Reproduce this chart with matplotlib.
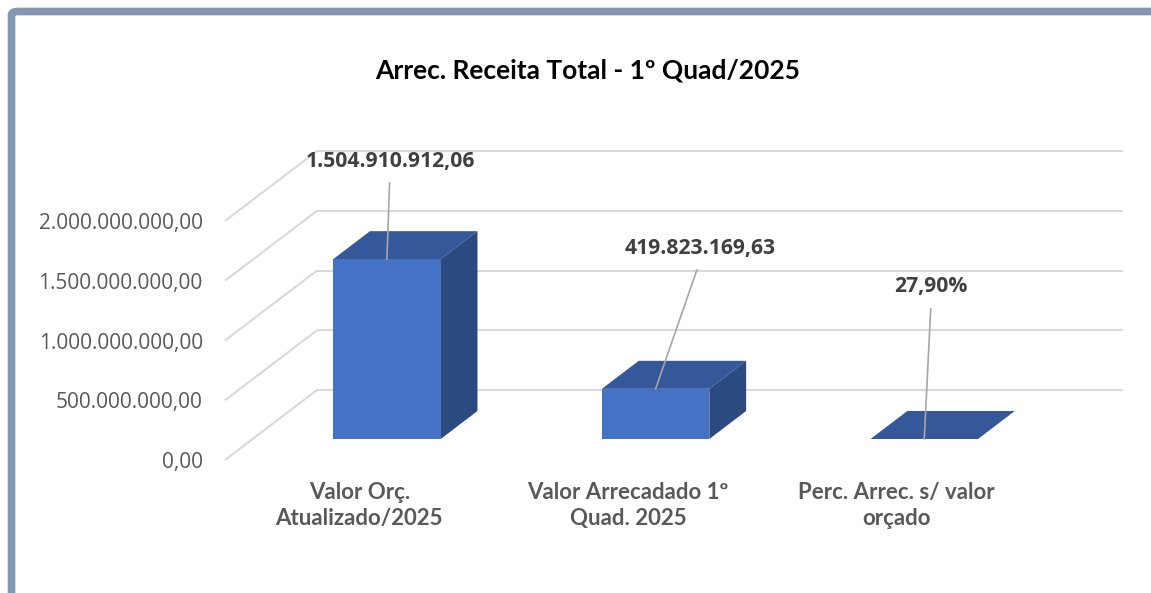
"""Arrec. Receita Total - 1º Quad/2025 (3D-style column chart)."""

import matplotlib

matplotlib.use("Agg")

import matplotlib.pyplot as plt
from matplotlib.patches import FancyBboxPatch, Polygon, Rectangle

categories = [
    "Valor Orç.\nAtualizado/2025",
    "Valor Arrecadado 1º\nQuad. 2025",
    "Perc. Arrec. s/ valor\norçado",
]
values = [1504910912.06, 419823169.63, 0.279]
is_percent = [False, False, True]
y_ticks = [0, 500_000_000, 1_000_000_000, 1_500_000_000, 2_000_000_000]
title = "Arrec. Receita Total - 1º Quad/2025"

FRONT = "#4472C4"
TOP = "#34589A"
SIDE = "#2B4A80"
GRID = "#D9D9D9"
TEXT = "#595959"
LABEL = "#404040"


def fmt_br(v, decimals=2):
    s = f"{v:,.{decimals}f}"
    return s.replace(",", "X").replace(".", ",").replace("X", ".")


def fmt_label(v, pct):
    return fmt_br(v * 100) + "%" if pct else fmt_br(v)


W_PX, H_PX = 1151, 593
fig = plt.figure(figsize=(W_PX / 100, H_PX / 100), dpi=100)

# front plane of the plot area, in pixels
left, right, bottom, top = 225, 1031, 460, 221
ax = fig.add_axes([left / W_PX, 1 - bottom / H_PX,
                   (right - left) / W_PX, (bottom - top) / H_PX])
ax.set_xlim(-0.5, len(categories) - 0.5)
ax.set_ylim(0, y_ticks[-1])

# depth of the 3D box in data units
depth_x = 92 / (right - left) * len(categories)
depth_y = 70 / (bottom - top) * y_ticks[-1]
bar_w = 0.40
f0, fd = 0.30, 0.40  # bar starts at 30% of depth, is 40% deep

x_lo, x_hi = -0.5, len(categories) - 0.5
for t in y_ticks:
    ax.plot([x_lo, x_lo + depth_x], [t, t + depth_y], color=GRID, lw=1.5,
            clip_on=False, zorder=1, solid_capstyle="butt")
    ax.plot([x_lo + depth_x, x_hi + depth_x], [t + depth_y, t + depth_y],
            color=GRID, lw=1.5, clip_on=False, zorder=1, solid_capstyle="butt")

label_offsets = [(3, 98), (45, 140), (7, 152)]  # pixels from bar top
for i, (v, pct) in enumerate(zip(values, is_percent)):
    x0 = i - bar_w / 2 + f0 * depth_x
    y0 = f0 * depth_y
    dx, dy = fd * depth_x, fd * depth_y
    ax.add_patch(Polygon([(x0 + bar_w, y0), (x0 + bar_w, y0 + v),
                          (x0 + bar_w + dx, y0 + v + dy), (x0 + bar_w + dx, y0 + dy)],
                         closed=True, fc=SIDE, ec="none", zorder=3, clip_on=False))
    ax.add_patch(Polygon([(x0, y0 + v), (x0 + bar_w, y0 + v),
                          (x0 + bar_w + dx, y0 + v + dy), (x0 + dx, y0 + v + dy)],
                         closed=True, fc=TOP, ec="none", zorder=3, clip_on=False))
    ax.add_patch(Rectangle((x0, y0), bar_w, v, fc=FRONT, ec="none", zorder=4,
                           clip_on=False))
    ax.annotate(fmt_label(v, pct), xy=(x0 + bar_w / 2, y0 + v),
                xytext=label_offsets[i], textcoords="offset pixels",
                ha="center", va="center", fontsize=15.2, fontweight="bold",
                family="Open Sans", color=LABEL, zorder=6,
                arrowprops=dict(arrowstyle="-", color="#A6A6A6", lw=1.2,
                                relpos=(0.5, 0), shrinkA=6, shrinkB=0))

ax.set_yticks(y_ticks)
ax.set_yticklabels([fmt_br(t) for t in y_ticks], family="Open Sans",
                   fontsize=15, color=TEXT)
ax.set_xticks(range(len(categories)))
ax.set_xticklabels(categories, family="Lato", fontweight="bold", fontsize=16,
                   color=TEXT, linespacing=1.3)
ax.tick_params(axis="y", length=0, pad=16)
ax.tick_params(axis="x", length=0, pad=16)
for s in ax.spines.values():
    s.set_visible(False)
ax.patch.set_visible(False)

fig.text(588 / W_PX, 1 - 70 / H_PX, title, ha="center", va="center",
         family="Lato", fontweight="bold", fontsize=19, color="black")

# chart area border (top and left edges visible)
fig.patches.append(FancyBboxPatch((11.5 / W_PX, -0.2), 1.2, 1.2 - 11.5 / H_PX,
                                  boxstyle="round,pad=0,rounding_size=0.006",
                                  transform=fig.transFigure, fc="none",
                                  ec="#8497B0", lw=5.5, zorder=10))

fig.savefig("out.png", dpi=100)
